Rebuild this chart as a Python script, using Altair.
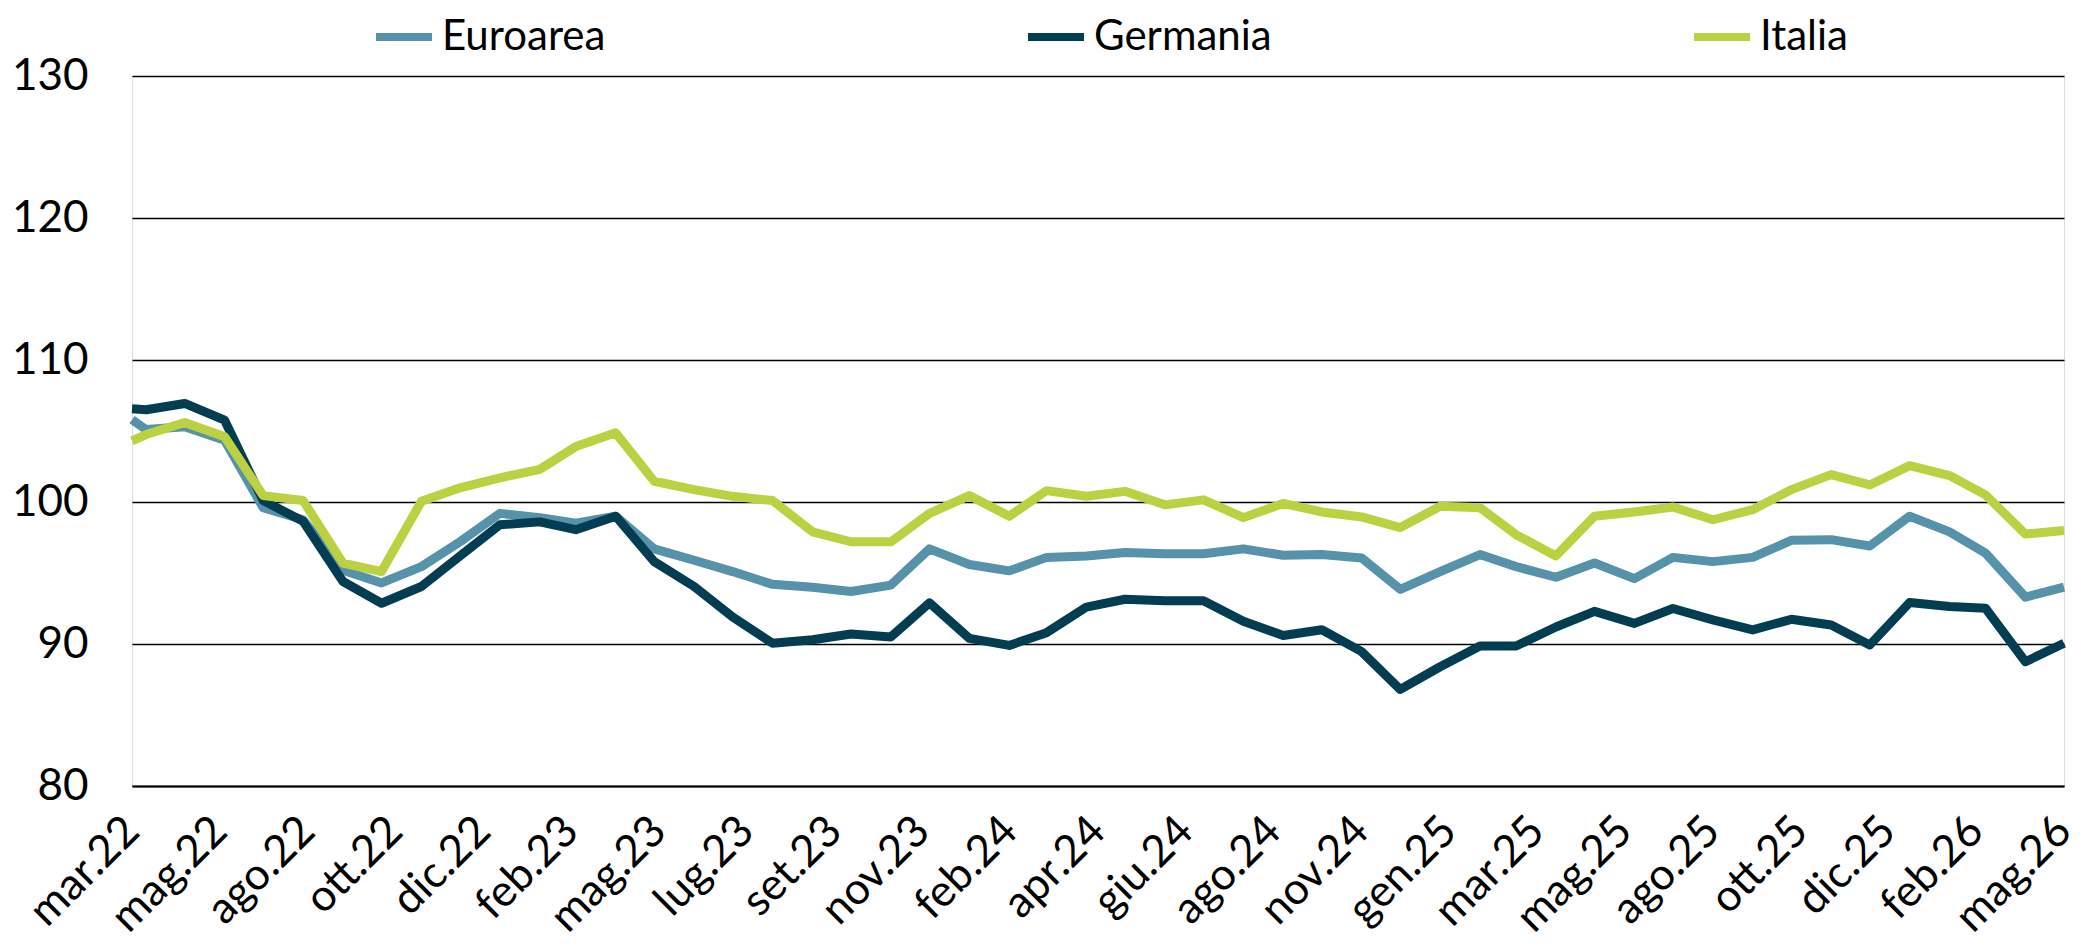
import json
import altair as alt
import pandas as pd

# ---------------- data ----------------
first_date = "2022-03-21"
last_date = "2026-05-01"
month_dates = [d.strftime("%Y-%m-%d") for d in pd.date_range("2022-04-01", last_date, freq="MS")]
dates = [first_date] + month_dates

series_names = ["Euroarea", "Germania", "Italia"]

euroarea = [105.8, 105.1, 105.3, 104.35, 99.6, 98.75, 95.2, 94.3, 95.45, 97.2,
            99.2, 98.9, 98.5, 99.0, 96.7, 95.9, 95.1, 94.2,
            94.0, 93.7, 94.15, 96.7, 95.6, 95.15, 96.1, 96.2,
            96.45, 96.35, 96.35, 96.7, 96.25, 96.3, 96.05, 93.85,
            95.1, 96.3, 95.45, 94.7, 95.7, 94.6, 96.1, 95.8,
            96.1, 97.3, 97.35, 96.9, 99.0, 97.9, 96.4, 93.3, 94.0]

germania = [106.56, 106.5, 106.94, 105.76, 100.1, 98.64, 94.4, 92.87, 94.05, 96.2,
            98.4, 98.6, 98.05, 99.0, 95.8, 94.05, 91.9, 90.05,
            90.3, 90.7, 90.5, 92.9, 90.4, 89.9, 90.8, 92.6,
            93.15, 93.05, 93.05, 91.6, 90.6, 91.0, 89.46, 86.8,
            88.4, 89.86, 89.86, 91.2, 92.3, 91.45, 92.5, 91.7,
            90.99, 91.74, 91.34, 89.93, 92.92, 92.64, 92.52, 88.75, 90.05]

italia = [104.3, 104.75, 105.6, 104.6, 100.45, 100.1, 95.7, 95.1, 100.05, 101.0,
          101.7, 102.3, 103.9, 104.87, 101.46, 100.87, 100.4, 100.1,
          97.9, 97.2, 97.2, 99.2, 100.45, 99.0, 100.8, 100.4,
          100.75, 99.8, 100.15, 98.9, 99.9, 99.3, 98.95, 98.2,
          99.7, 99.6, 97.7, 96.2, 99.0, 99.3, 99.65, 98.75,
          99.46, 100.87, 101.93, 101.2, 102.56, 101.86, 100.5, 97.74, 98.0]

tick_labels = ["mar.22", "mag.22", "ago.22", "ott.22", "dic.22", "feb.23", "mag.23",
               "lug.23", "set.23", "nov.23", "feb.24", "apr.24", "giu.24", "ago.24",
               "nov.24", "gen.25", "mar.25", "mag.25", "ago.25", "ott.25", "dic.25",
               "feb.26", "mag.26"]

y_ticks = [80, 90, 100, 110, 120, 130]
colors = ["#5693AA", "#023D52", "#BCD142"]

# ---------------- table ----------------
rows = []
for name, vals in zip(series_names, [euroarea, germania, italia]):
    for d, v in zip(dates, vals):
        rows.append({"date": d, "serie": name, "value": v})
df = pd.DataFrame(rows)

start_ms = int(pd.Timestamp(first_date, tz="UTC").value // 10**6)
end_ms = int(pd.Timestamp(last_date, tz="UTC").value // 10**6)
n_int = len(tick_labels) - 1
step_ms = (end_ms - start_ms) / n_int
tick_ms = [start_ms + k * step_ms for k in range(len(tick_labels))]
label_expr = f"{json.dumps(tick_labels)}[round((time(datum.value) - {start_ms}) / {step_ms})]"

FONT = "Lato"

chart = (
    alt.Chart(df)
    .mark_line(strokeWidth=9, strokeJoin="round")
    .encode(
        x=alt.X(
            "date:T",
            scale=alt.Scale(type="utc", domain=[start_ms, end_ms], nice=False),
            axis=alt.Axis(
                values=tick_ms,
                labelExpr=label_expr,
                labelAngle=-45,
                labelAlign="right",
                labelBaseline="middle",
                labelPadding=38,
                ticks=False,
                tickSize=0,
                grid=False,
                domain=True,
                domainColor="#000000",
                domainWidth=2,
                labelFont=FONT,
                labelFontSize=44,
                labelColor="#000000",
                labelFlush=False,
                labelOverlap=False,
                title=None,
            ),
        ),
        y=alt.Y(
            "value:Q",
            scale=alt.Scale(domain=[80, 130], nice=False, zero=False),
            axis=alt.Axis(
                values=y_ticks,
                ticks=False,
                tickSize=0,
                domain=False,
                grid=True,
                gridColor="#000000",
                gridWidth=1.3,
                labelFont=FONT,
                labelFontSize=44,
                labelColor="#000000",
                labelPadding=44,
                title=None,
            ),
        ),
        color=alt.Color(
            "serie:N",
            scale=alt.Scale(domain=series_names, range=colors),
            legend=alt.Legend(
                title=None,
                orient="none",
                direction="horizontal",
                legendX=240,
                legendY=-71,
                symbolType="stroke",
                symbolStrokeWidth=8,
                symbolSize=3136,
                labelFont=FONT,
                labelFontSize=42,
                labelColor="#000000",
                labelOffset=6,
                labelLimit=0,
                gridAlign="each",
                columnPadding=406,
            ),
        ),
        order=alt.Order("serie:N"),
    )
    .properties(
        width=1932,
        height=710,
        autosize=alt.AutoSizeParams(type="none"),
        padding={"left": 124, "top": 68, "right": 18, "bottom": 158},
    )
    .configure_view(stroke=None)
    .configure(background="#ffffff")
)

chart.save("out.html", embed_options={"renderer": "svg", "actions": False})
